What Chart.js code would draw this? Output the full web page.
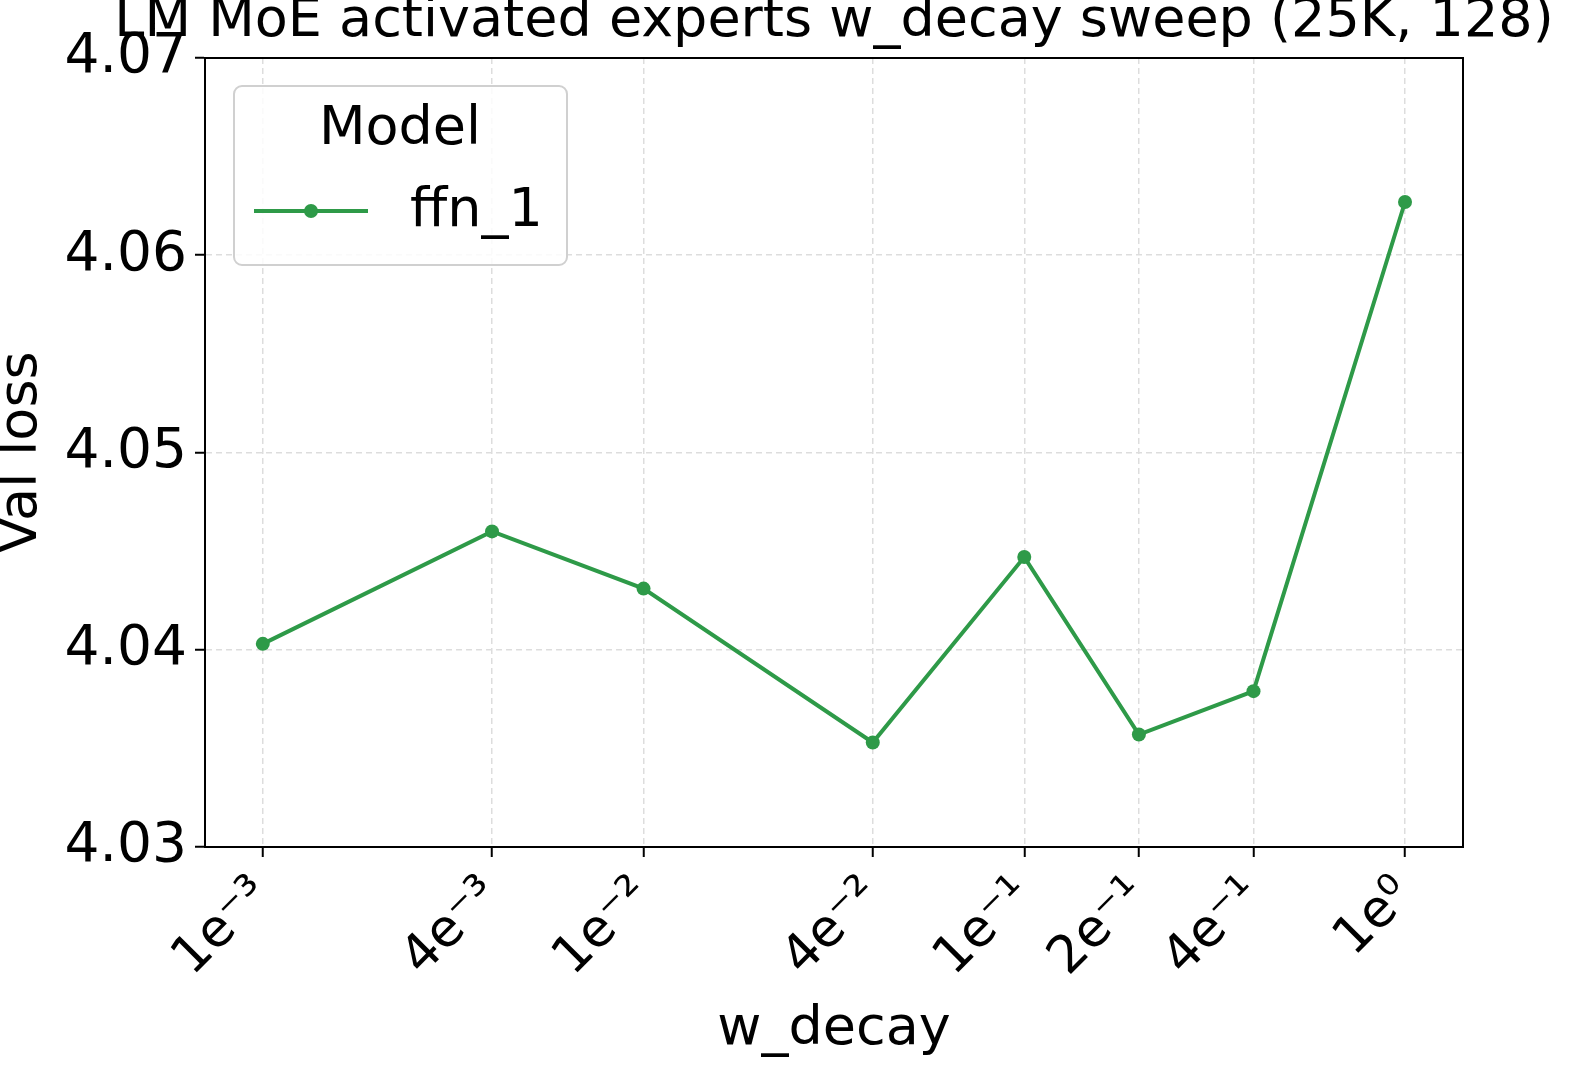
<!DOCTYPE html>
<html><head><meta charset="utf-8">
<script src="https://cdn.jsdelivr.net/npm/chart.js@4/dist/chart.umd.min.js"></script>
<style>html,body{margin:0;padding:0;background:#fff}#c{display:block}</style>
</head><body>
<canvas id="c" width="1584" height="1075" style="width:1584px;height:1075px"></canvas>
<script>
const wDecay = [0.001, 0.004, 0.01, 0.04, 0.1, 0.2, 0.4, 1];
const tickLabels = ['1e\u207B\u00B3','4e\u207B\u00B3','1e\u207B\u00B2','4e\u207B\u00B2','1e\u207B\u00B9','2e\u207B\u00B9','4e\u207B\u00B9','1e\u2070'];
const valLoss = [4.0403, 4.0460, 4.0431, 4.0353, 4.0447, 4.0357, 4.0379, 4.0627];
const seriesName = 'ffn_1';
const COLOR = '#2e9a48';
const FONT = 'DejaVu Sans';

const deco = {
  id: 'deco',
  afterDraw(chart) {
    const {ctx, chartArea: a} = chart;
    ctx.save();
    ctx.strokeStyle = '#000'; ctx.lineWidth = 2;
    ctx.strokeRect(a.left, a.top, a.right - a.left, a.bottom - a.top);
    ctx.fillStyle = '#000';
    ctx.textAlign = 'center'; ctx.textBaseline = 'middle';
    ctx.font = `54px "${FONT}"`;
    ctx.fillText('LM MoE activated experts w_decay sweep (25K, 128)', 834, 22);
    ctx.font = `54px "${FONT}"`;
    ctx.fillText('w_decay', (a.left + a.right) / 2, 1030);
    ctx.save(); ctx.translate(22, (a.top + a.bottom) / 2); ctx.rotate(-Math.PI / 2);
    ctx.fillText('Val loss', 0, 0); ctx.restore();
    // legend
    const x = 234, y = 86, w = 333, h = 179;
    ctx.fillStyle = 'rgba(255,255,255,0.85)';
    ctx.strokeStyle = '#d0d0d0'; ctx.lineWidth = 2;
    ctx.beginPath(); ctx.roundRect(x, y, w, h, 8); ctx.fill(); ctx.stroke();
    ctx.fillStyle = '#000';
    ctx.font = `54px "${FONT}"`;
    ctx.fillText('Model', 400, 130);
    ctx.textAlign = 'left';
    ctx.fillText(seriesName, 410, 212);
    ctx.strokeStyle = COLOR; ctx.lineWidth = 4;
    ctx.beginPath(); ctx.moveTo(254, 211); ctx.lineTo(368, 211); ctx.stroke();
    ctx.fillStyle = COLOR; ctx.beginPath(); ctx.arc(311, 211, 7, 0, Math.PI * 2); ctx.fill();
    ctx.restore();
  }
};

new Chart(document.getElementById('c'), {
  type: 'line',
  data: { datasets: [{ label: seriesName, data: wDecay.map((x, i) => ({x, y: valLoss[i]})),
    borderColor: COLOR, backgroundColor: COLOR, borderWidth: 4, pointRadius: 7, pointBorderWidth: 0, tension: 0 }] },
  options: {
    responsive: false, animation: false, devicePixelRatio: 1,
    layout: { padding: { top: 58, right: 121, left: 0, bottom: 0 } },
    plugins: { legend: { display: false }, title: { display: false }, tooltip: { enabled: false } },
    scales: {
      x: { type: 'logarithmic', min: 7.05e-4, max: 1.42,
        afterBuildTicks(s) { s.ticks = wDecay.map(v => ({value: v})); },
        afterFit(s) { s.height = 228; },
        ticks: { autoSkip: false, minRotation: 45, maxRotation: 45, color: '#000', padding: 8,
          font: { family: FONT, size: 52 },
          callback(v) { const i = wDecay.indexOf(v); return i >= 0 ? tickLabels[i] : ''; } },
        grid: { color: '#dddddd', lineWidth: 1.5, tickColor: '#000', tickLength: 10, tickWidth: 2, drawTicks: true },
        border: { display: true, color: '#000', width: 2, dash: [6, 4] }
      },
      y: { min: 4.03, max: 4.07,
        afterFit(s) { s.width = 205; },
        ticks: { stepSize: 0.01, color: '#000', padding: 8, font: { family: FONT, size: 55 },
          callback: v => v.toFixed(2) },
        grid: { color: '#dddddd', lineWidth: 1.5, tickColor: '#000', tickLength: 10, tickWidth: 2 },
        border: { display: true, color: '#000', width: 2, dash: [6, 4] }
      }
    }
  },
  plugins: [deco]
});
</script>
</body></html>
